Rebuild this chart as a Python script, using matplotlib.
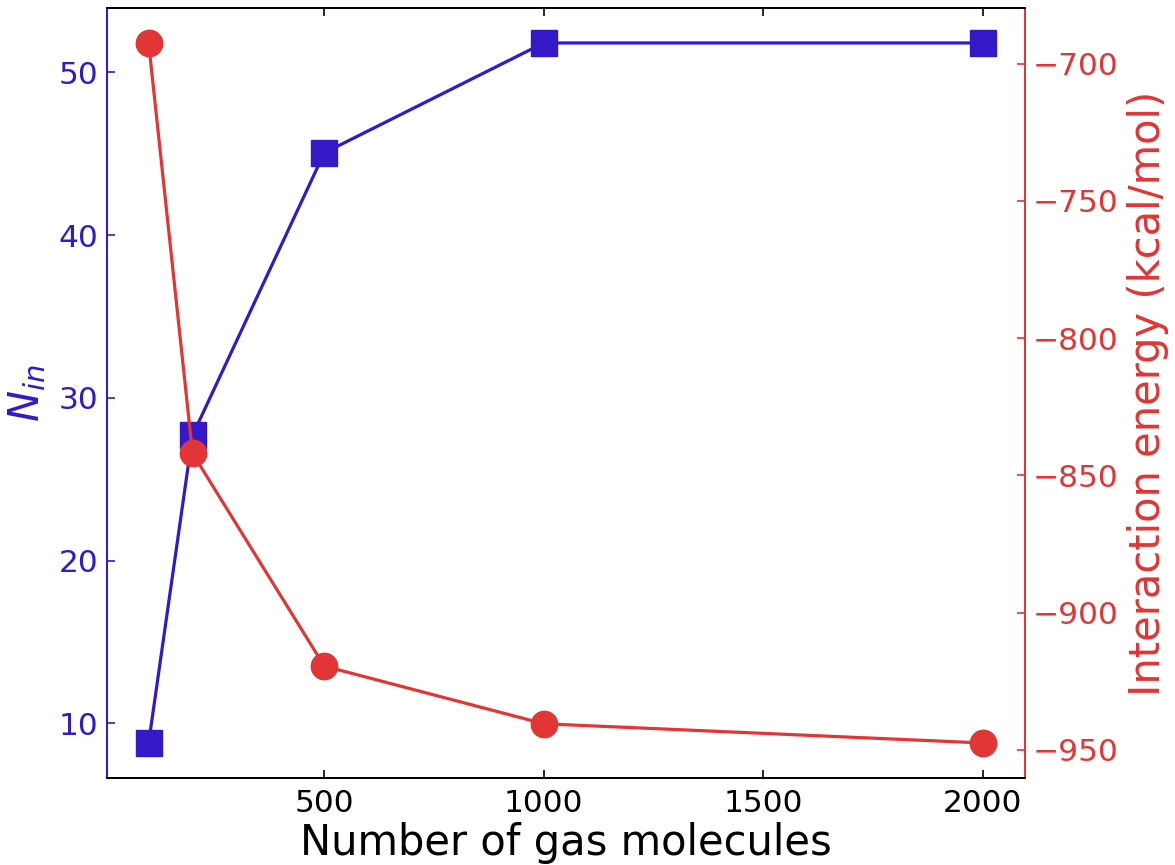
import numpy as np
import matplotlib
matplotlib.use("Agg")
import matplotlib.pyplot as plt

# data
n_gas = [100, 200, 500, 1000, 2000]
n_in = [8.8, 27.7, 45.05, 51.8, 51.8]
energy = [-692.5, -842.0, -919.5, -940.5, -947.5]

blue = '#3319C8'
red = '#E23535'

fig = plt.figure(figsize=(11.75, 8.65), dpi=100)
ax = fig.add_axes([0.091, 0.1006, 0.781, 0.8902])
ax2 = ax.twinx()

ax.plot(n_gas, n_in, color=blue, marker='s', markersize=19, linewidth=2.3)
ax2.plot(n_gas, energy, color=red, marker='o', markersize=19, linewidth=2.3)

ax.set_xticks([500, 1000, 1500, 2000])
ax.set_yticks([10, 20, 30, 40, 50])
ax2.set_yticks([-950, -900, -850, -800, -750, -700])

ax.set_xlabel('Number of gas molecules', fontsize=30, labelpad=3)
ax.set_ylabel(r'$N_{in}$', fontsize=30, color=blue, labelpad=8)
ax2.set_ylabel('Interaction energy (kcal/mol)', fontsize=30, color=red, labelpad=6)

ax.tick_params(axis='x', direction='in', top=True, length=6, width=1.2,
               labelsize=22.5, pad=8)
ax.tick_params(axis='y', direction='in', length=6, width=1.2, colors=blue,
               labelsize=22.5, pad=6)
ax2.tick_params(axis='y', direction='in', length=6, width=1.2, colors=red,
                labelsize=22.5, pad=6)

for a in (ax, ax2):
    a.spines['left'].set_color(blue)
    a.spines['right'].set_color(red)
    for s in a.spines.values():
        s.set_linewidth(1.3)

fig.savefig('out.png', dpi=100)
